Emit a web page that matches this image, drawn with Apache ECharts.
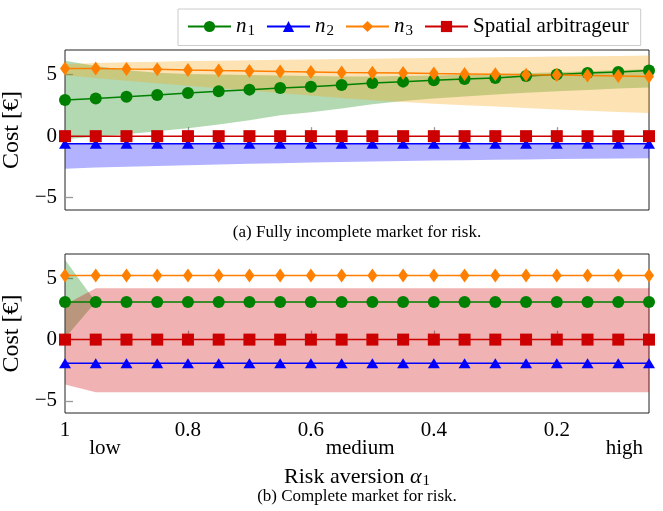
<!DOCTYPE html>
<html>
<head>
<meta charset="utf-8">
<script src="https://cdn.jsdelivr.net/npm/echarts@6/dist/echarts.min.js"></script>
<style>
  html, body { margin: 0; padding: 0; background: #fff; }
  #chart { width: 663px; height: 511px; }
</style>
</head>
<body>
<div id="chart"></div>
<script>
// risk aversion values (x axis, reversed)
var alpha = [1, 0.95, 0.9, 0.85, 0.8, 0.75, 0.7, 0.65, 0.6, 0.55, 0.5, 0.45, 0.4, 0.35, 0.3, 0.25, 0.2, 0.15, 0.1, 0.05];

// (a) fully incomplete market
var n1A = [2.93, 3.05, 3.21, 3.34, 3.51, 3.64, 3.78, 3.91, 4.02, 4.16, 4.32, 4.43, 4.54, 4.65, 4.73, 4.89, 5.0, 5.14, 5.22, 5.33];
var n2A = [-0.62, -0.62, -0.62, -0.62, -0.62, -0.62, -0.62, -0.62, -0.62, -0.62, -0.62, -0.62, -0.62, -0.62, -0.62, -0.62, -0.62, -0.62, -0.62, -0.62];
var n3A = [5.49, 5.49, 5.46, 5.44, 5.38, 5.33, 5.3, 5.25, 5.22, 5.17, 5.15, 5.13, 5.09, 5.06, 5.03, 4.99, 4.96, 4.92, 4.89, 4.85];
var arbA = [0, 0, 0, 0, 0, 0, 0, 0, 0, 0, 0, 0, 0, 0, 0, 0, 0, 0, 0, 0];
// shaded ranges (a)
var n1LoA = [-0.25, -0.05, 0.15, 0.4, 0.65, 0.95, 1.3, 1.7, 1.95, 2.25, 2.6, 2.85, 3.05, 3.22, 3.38, 3.52, 3.65, 3.76, 3.87, 3.96];
var n1HiA = [6.13, 5.7, 5.35, 5.15, 5.05, 5.0, 4.96, 4.92, 4.88, 4.85, 4.85, 4.88, 4.92, 4.98, 5.05, 5.12, 5.2, 5.28, 5.36, 5.45];
var n2LoA = [-2.65, -2.55, -2.48, -2.42, -2.36, -2.3, -2.25, -2.2, -2.15, -2.1, -2.06, -2.02, -1.98, -1.95, -1.92, -1.89, -1.86, -1.84, -1.82, -1.8];
var n2HiA = [-0.55, -0.55, -0.55, -0.55, -0.55, -0.55, -0.55, -0.55, -0.55, -0.55, -0.55, -0.55, -0.55, -0.55, -0.55, -0.55, -0.55, -0.55, -0.55, -0.55];
var n3LoA = [4.95, 4.72, 4.5, 4.3, 4.1, 3.9, 3.7, 3.5, 3.3, 3.1, 2.92, 2.78, 2.64, 2.52, 2.4, 2.28, 2.17, 2.07, 1.97, 1.88];
var n3HiA = [5.85, 5.95, 6.0, 6.05, 6.1, 6.13, 6.17, 6.2, 6.23, 6.26, 6.29, 6.32, 6.35, 6.38, 6.41, 6.44, 6.47, 6.5, 6.52, 6.55];

// (b) complete market
var n1B = [3.07, 3.07, 3.07, 3.07, 3.07, 3.07, 3.07, 3.07, 3.07, 3.07, 3.07, 3.07, 3.07, 3.07, 3.07, 3.07, 3.07, 3.07, 3.07, 3.07];
var n2B = [-1.93, -1.93, -1.93, -1.93, -1.93, -1.93, -1.93, -1.93, -1.93, -1.93, -1.93, -1.93, -1.93, -1.93, -1.93, -1.93, -1.93, -1.93, -1.93, -1.93];
var n3B = [5.25, 5.25, 5.25, 5.25, 5.25, 5.25, 5.25, 5.25, 5.25, 5.25, 5.25, 5.25, 5.25, 5.25, 5.25, 5.25, 5.25, 5.25, 5.25, 5.25];
var arbB = [0, 0, 0, 0, 0, 0, 0, 0, 0, 0, 0, 0, 0, 0, 0, 0, 0, 0, 0, 0];
var n1LoB = [0.13, 3.07, 3.07, 3.07, 3.07, 3.07, 3.07, 3.07, 3.07, 3.07, 3.07, 3.07, 3.07, 3.07, 3.07, 3.07, 3.07, 3.07, 3.07, 3.07];
var n1HiB = [6.52, 3.07, 3.07, 3.07, 3.07, 3.07, 3.07, 3.07, 3.07, 3.07, 3.07, 3.07, 3.07, 3.07, 3.07, 3.07, 3.07, 3.07, 3.07, 3.07];
var arbLoB = [-3.67, -4.3, -4.3, -4.3, -4.3, -4.3, -4.3, -4.3, -4.3, -4.3, -4.3, -4.3, -4.3, -4.3, -4.3, -4.3, -4.3, -4.3, -4.3, -4.3];
var arbHiB = [2.85, 4.2, 4.2, 4.2, 4.2, 4.2, 4.2, 4.2, 4.2, 4.2, 4.2, 4.2, 4.2, 4.2, 4.2, 4.2, 4.2, 4.2, 4.2, 4.2];

// axis ticks
var xTicks = [0.8, 0.6, 0.4, 0.2];
var xLabels = [1, 0.8, 0.6, 0.4, 0.2];
var yTicks = [-5, 0, 5];
var levelPos = [0.935, 0.52, 0.09];
var levelNames = ['low', 'medium', 'high'];

var FONT = '"Liberation Serif", "Times New Roman", serif';
var GREEN = '#008000', BLUE = '#0000ff', ORANGE = '#ff8000', RED = '#cc0000';

var chart = echarts.init(document.getElementById('chart'), null, {renderer: 'canvas'});

function pairs(ys) {
    return alpha.map(function (a, i) { return [a, ys[i]]; });
}

/**
 * shaded range between lo and hi, drawn as one polygon through the axes
 */
function band(lo, hi, color, g) {
    return {
        type: 'custom', xAxisIndex: g, yAxisIndex: g, silent: true, z: 1,
        data: [[alpha[0], lo[0]]],
        clip: true,
        renderItem: function (params, api) {
            var pts = [], i;
            for (i = 0; i < alpha.length; i++) pts.push(api.coord([alpha[i], hi[i]]));
            for (i = alpha.length - 1; i >= 0; i--) pts.push(api.coord([alpha[i], lo[i]]));
            return {type: 'polygon', shape: {points: pts}, style: {fill: color}};
        }
    };
}

function line(name, ys, color, symbol, size, g) {
    return {
        type: 'line', name: name, xAxisIndex: g, yAxisIndex: g,
        data: pairs(ys), symbol: symbol, symbolSize: size,
        lineStyle: {color: color, width: 1.5},
        itemStyle: {color: color},
        z: 3
    };
}

var xCommon = {
    type: 'value', min: 0.05, max: 1, inverse: true,
    axisLine: {show: false},
    splitLine: {show: false},
    axisTick: {show: true, inside: true, length: 9, customValues: xTicks, lineStyle: {color: '#999', width: 1.3}}
};
var yCommon = {
    type: 'value', min: -6, max: 7,
    axisLine: {show: false},
    splitLine: {show: false},
    axisTick: {show: true, inside: true, length: 8, customValues: yTicks, lineStyle: {color: '#999', width: 1.3}},
    axisLabel: {
        customValues: yTicks, margin: 8, color: '#000', fontFamily: FONT, fontSize: 21,
        formatter: function (v) { return v < 0 ? '\u2212' + (-v) : '' + v; }
    },
    name: 'Cost [\u20ac]', nameLocation: 'middle', nameGap: 31, nameRotate: 90,
    nameTextStyle: {color: '#000', fontFamily: FONT, fontSize: 24}
};

var series = [
    band(n1LoA, n1HiA, 'rgba(0,128,0,0.3)', 0),
    band(n2LoA, n2HiA, 'rgba(0,0,255,0.3)', 0),
    band(n3LoA, n3HiA, 'rgba(250,165,20,0.32)', 0),
    band(n1LoB, n1HiB, 'rgba(0,128,0,0.3)', 1),
    band(arbLoB, arbHiB, 'rgba(204,0,0,0.3)', 1),
    line('n1', n1A, GREEN, 'circle', 12, 0),
    line('n2', n2A, BLUE, 'triangle', [12, 10], 0),
    line('n3', n3A, ORANGE, 'diamond', [10, 14], 0),
    line('Spatial arbitrageur', arbA, RED, 'rect', 12, 0),
    line('n1', n1B, GREEN, 'circle', 12, 1),
    line('n2', n2B, BLUE, 'triangle', [12, 10], 1),
    line('n3', n3B, ORANGE, 'diamond', [10, 14], 1),
    line('Spatial arbitrageur', arbB, RED, 'rect', 12, 1)
];

var xMid = 65 + 584 / 2;

var option = {
    animation: false,
    backgroundColor: '#fff',
    legend: {
        data: ['n1', 'n2', 'n3', 'Spatial arbitrageur'],
        left: 178, top: 9,
        padding: [7, 12, 7, 9],
        itemWidth: 43, itemHeight: 14, itemGap: 11,
        borderColor: '#ccc', borderWidth: 1,
        textStyle: {
            color: '#000', fontFamily: FONT, fontSize: 21,
            rich: {
                i: {fontFamily: FONT, fontStyle: 'italic', fontSize: 21, color: '#000'},
                s: {fontFamily: FONT, fontSize: 15, color: '#000', padding: [9, 0, 0, 1]}
            }
        },
        formatter: function (name) {
            if (name.charAt(0) === 'n') return '{i|n}{s|' + name.charAt(1) + '}';
            return name;
        }
    },
    grid: [
        {left: 65, top: 50, width: 584, height: 160, outerBoundsMode: 'none', containLabel: false,
            show: true, borderColor: '#222', borderWidth: 1, backgroundColor: 'transparent'},
        {left: 65, top: 254, width: 584, height: 159, outerBoundsMode: 'none', containLabel: false,
            show: true, borderColor: '#222', borderWidth: 1, backgroundColor: 'transparent'}
    ],
    xAxis: [
        Object.assign({}, xCommon, {gridIndex: 0, axisLabel: {show: false}}),
        Object.assign({}, xCommon, {
            gridIndex: 1,
            axisLabel: {
                customValues: xLabels, showMaxLabel: true, showMinLabel: true, margin: 7,
                color: '#000', fontFamily: FONT, fontSize: 21
            }
        }),
        // low / medium / high row
        {
            type: 'value', gridIndex: 1, min: 0.05, max: 1, inverse: true, position: 'bottom',
            axisLine: {show: false}, axisTick: {show: false}, splitLine: {show: false},
            axisLabel: {
                customValues: levelPos, margin: 25, color: '#000', fontFamily: FONT, fontSize: 21,
                formatter: function (v) { return levelNames[levelPos.indexOf(v)]; }
            }
        }
    ],
    yAxis: [
        Object.assign({}, yCommon, {gridIndex: 0}),
        Object.assign({}, yCommon, {gridIndex: 1})
    ],
    graphic: [
        {
            type: 'text', x: xMid, y: 233,
            style: {text: '(a) Fully incomplete market for risk.', fontFamily: FONT, fontSize: 17,
                fill: '#000', align: 'center', verticalAlign: 'middle'}
        },
        {
            type: 'text', x: xMid, y: 477,
            style: {
                text: '{t|Risk aversion }{a|\u03b1}{s|1}', fill: '#000', align: 'center', verticalAlign: 'middle',
                rich: {
                    t: {fontFamily: FONT, fontSize: 22},
                    a: {fontFamily: FONT, fontStyle: 'italic', fontSize: 22},
                    s: {fontFamily: FONT, fontSize: 15, padding: [9, 0, 0, 1]}
                }
            }
        },
        {
            type: 'text', x: xMid, y: 497,
            style: {text: '(b) Complete market for risk.', fontFamily: FONT, fontSize: 17,
                fill: '#000', align: 'center', verticalAlign: 'middle'}
        }
    ],
    series: series
};

chart.setOption(option);
</script>
</body>
</html>
